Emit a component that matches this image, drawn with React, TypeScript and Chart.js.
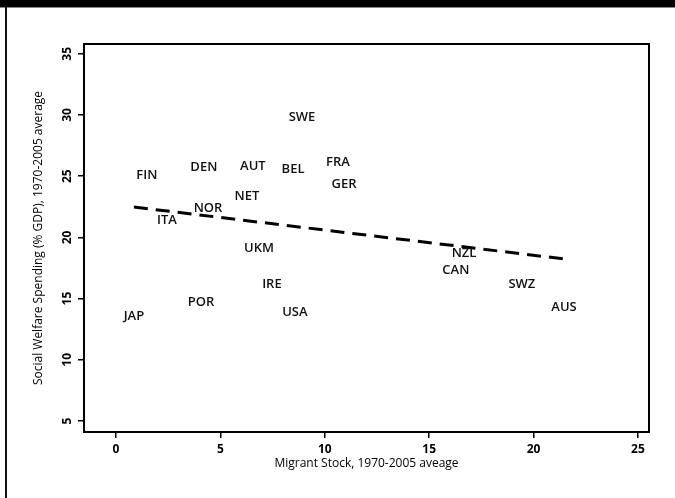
import React, { useEffect, useRef } from "react";
import { Chart, registerables } from "chart.js";

Chart.register(...registerables);

// ---- data ----
const countries = ["SWE", "FIN", "DEN", "AUT", "BEL", "FRA", "GER", "NET", "NOR", "ITA", "UKM", "IRE", "POR", "USA", "JAP", "NZL", "CAN", "SWZ", "AUS"];
const migrantStock = [8.91, 1.48, 4.21, 6.56, 8.48, 10.63, 10.92, 6.27, 4.41, 2.44, 6.85, 7.47, 4.07, 8.57, 0.86, 16.67, 16.28, 19.44, 21.46];
const welfareSpending = [29.85, 25.11, 25.76, 25.92, 25.6, 26.17, 24.45, 23.39, 22.49, 21.51, 19.22, 16.28, 14.8, 13.99, 13.66, 18.81, 17.42, 16.28, 14.4];
const fitX = [0.86, 21.46];
const fitY = [22.48, 18.24];
const xTicks = [0, 5, 10, 15, 20, 25];
const yTicks = [5, 10, 15, 20, 25, 30, 35];
const xTitle = "Migrant Stock, 1970-2005 aveage";
const yTitle = "Social Welfare Spending (% GDP), 1970-2005 average";

const labelPlugin = {
  id: "countryLabels",
  afterDatasetsDraw(chart: any) {
    const meta = chart.getDatasetMeta(0);
    const ctx = chart.ctx;
    ctx.save();
    ctx.font = "600 13px 'Open Sans'";
    ctx.fillStyle = "#111";
    ctx.textAlign = "center";
    ctx.textBaseline = "alphabetic";
    meta.data.forEach((el: any, i: number) => {
      ctx.fillText(countries[i], el.x, el.y + 4.6);
    });
    ctx.restore();
  },
};

const framePlugin = {
  id: "frame",
  beforeDraw(chart: any) {
    const ctx = chart.ctx;
    ctx.save();
    ctx.fillStyle = "#fff";
    ctx.fillRect(0, 0, chart.width, chart.height);
    ctx.fillStyle = "#000";
    ctx.fillRect(0, 0, chart.width, 7);
    ctx.fillStyle = "#888";
    ctx.fillRect(0, 7, chart.width, 1);
    ctx.fillStyle = "#111";
    ctx.fillRect(5, 7, 2, chart.height - 7);
    ctx.restore();
  },
  afterDraw(chart: any) {
    const { left, top, right, bottom } = chart.chartArea;
    const ctx = chart.ctx;
    ctx.save();
    ctx.strokeStyle = "#000";
    ctx.lineWidth = 2;
    ctx.strokeRect(left, top, right - left, bottom - top);
    ctx.restore();
  },
};

export default function App() {
  const ref = useRef<HTMLCanvasElement>(null);

  useEffect(() => {
    if (!ref.current) return;
    const tickFont = { family: "'Open Sans'", size: 12, weight: "bold" as const };
    const titleFont = { family: "'Open Sans'", size: 12 };
    const chart = new Chart(ref.current, {
      type: "scatter",
      data: {
        datasets: [
          {
            data: migrantStock.map((x, i) => ({ x, y: welfareSpending[i] })),
            pointRadius: 0,
            pointHoverRadius: 0,
            backgroundColor: "#000",
          },
          {
            data: fitX.map((x, i) => ({ x, y: fitY[i] })),
            showLine: true,
            borderColor: "#000",
            borderWidth: 3,
            borderDash: [14, 8],
            pointRadius: 0,
            fill: false,
          },
        ],
      },
      options: {
        responsive: false,
        animation: false,
        devicePixelRatio: 1,
        layout: { padding: { left: 31, right: 26, top: 44, bottom: 27 } },
        plugins: { legend: { display: false }, tooltip: { enabled: false } },
        scales: {
          x: {
            type: "linear",
            min: -1.53,
            max: 25.53,
            afterBuildTicks: (s: any) => {
              s.ticks = xTicks.map((v) => ({ value: v }));
            },
            afterFit: (s: any) => {
              s.height = 39;
            },
            ticks: { font: tickFont, color: "#000", padding: 4, maxRotation: 0, autoSkip: false },
            grid: { display: true, drawOnChartArea: false, drawTicks: true, tickLength: 6, color: "#000", lineWidth: 1.5 },
            border: { display: false },
            title: { display: true, text: xTitle, font: titleFont, color: "#000", padding: 0 },
          },
          y: {
            type: "linear",
            min: 4.1,
            max: 35.8,
            afterBuildTicks: (s: any) => {
              s.ticks = yTicks.map((v) => ({ value: v }));
            },
            afterFit: (s: any) => {
              s.width = 53;
            },
            ticks: { font: tickFont, color: "#000", padding: 4, minRotation: 90, maxRotation: 90, crossAlign: "center", autoSkip: false },
            grid: { display: true, drawOnChartArea: false, drawTicks: true, tickLength: 6, color: "#000", lineWidth: 1.5 },
            border: { display: false },
            title: { display: true, text: yTitle, font: titleFont, color: "#000", padding: 0 },
          },
        },
      },
      plugins: [labelPlugin, framePlugin],
    });
    return () => chart.destroy();
  }, []);

  return (
    <div style={{ position: "absolute", left: 0, top: 0, width: 675, height: 498, background: "#fff" }}>
      <canvas ref={ref} width={675} height={498} style={{ display: "block" }} />
    </div>
  );
}
